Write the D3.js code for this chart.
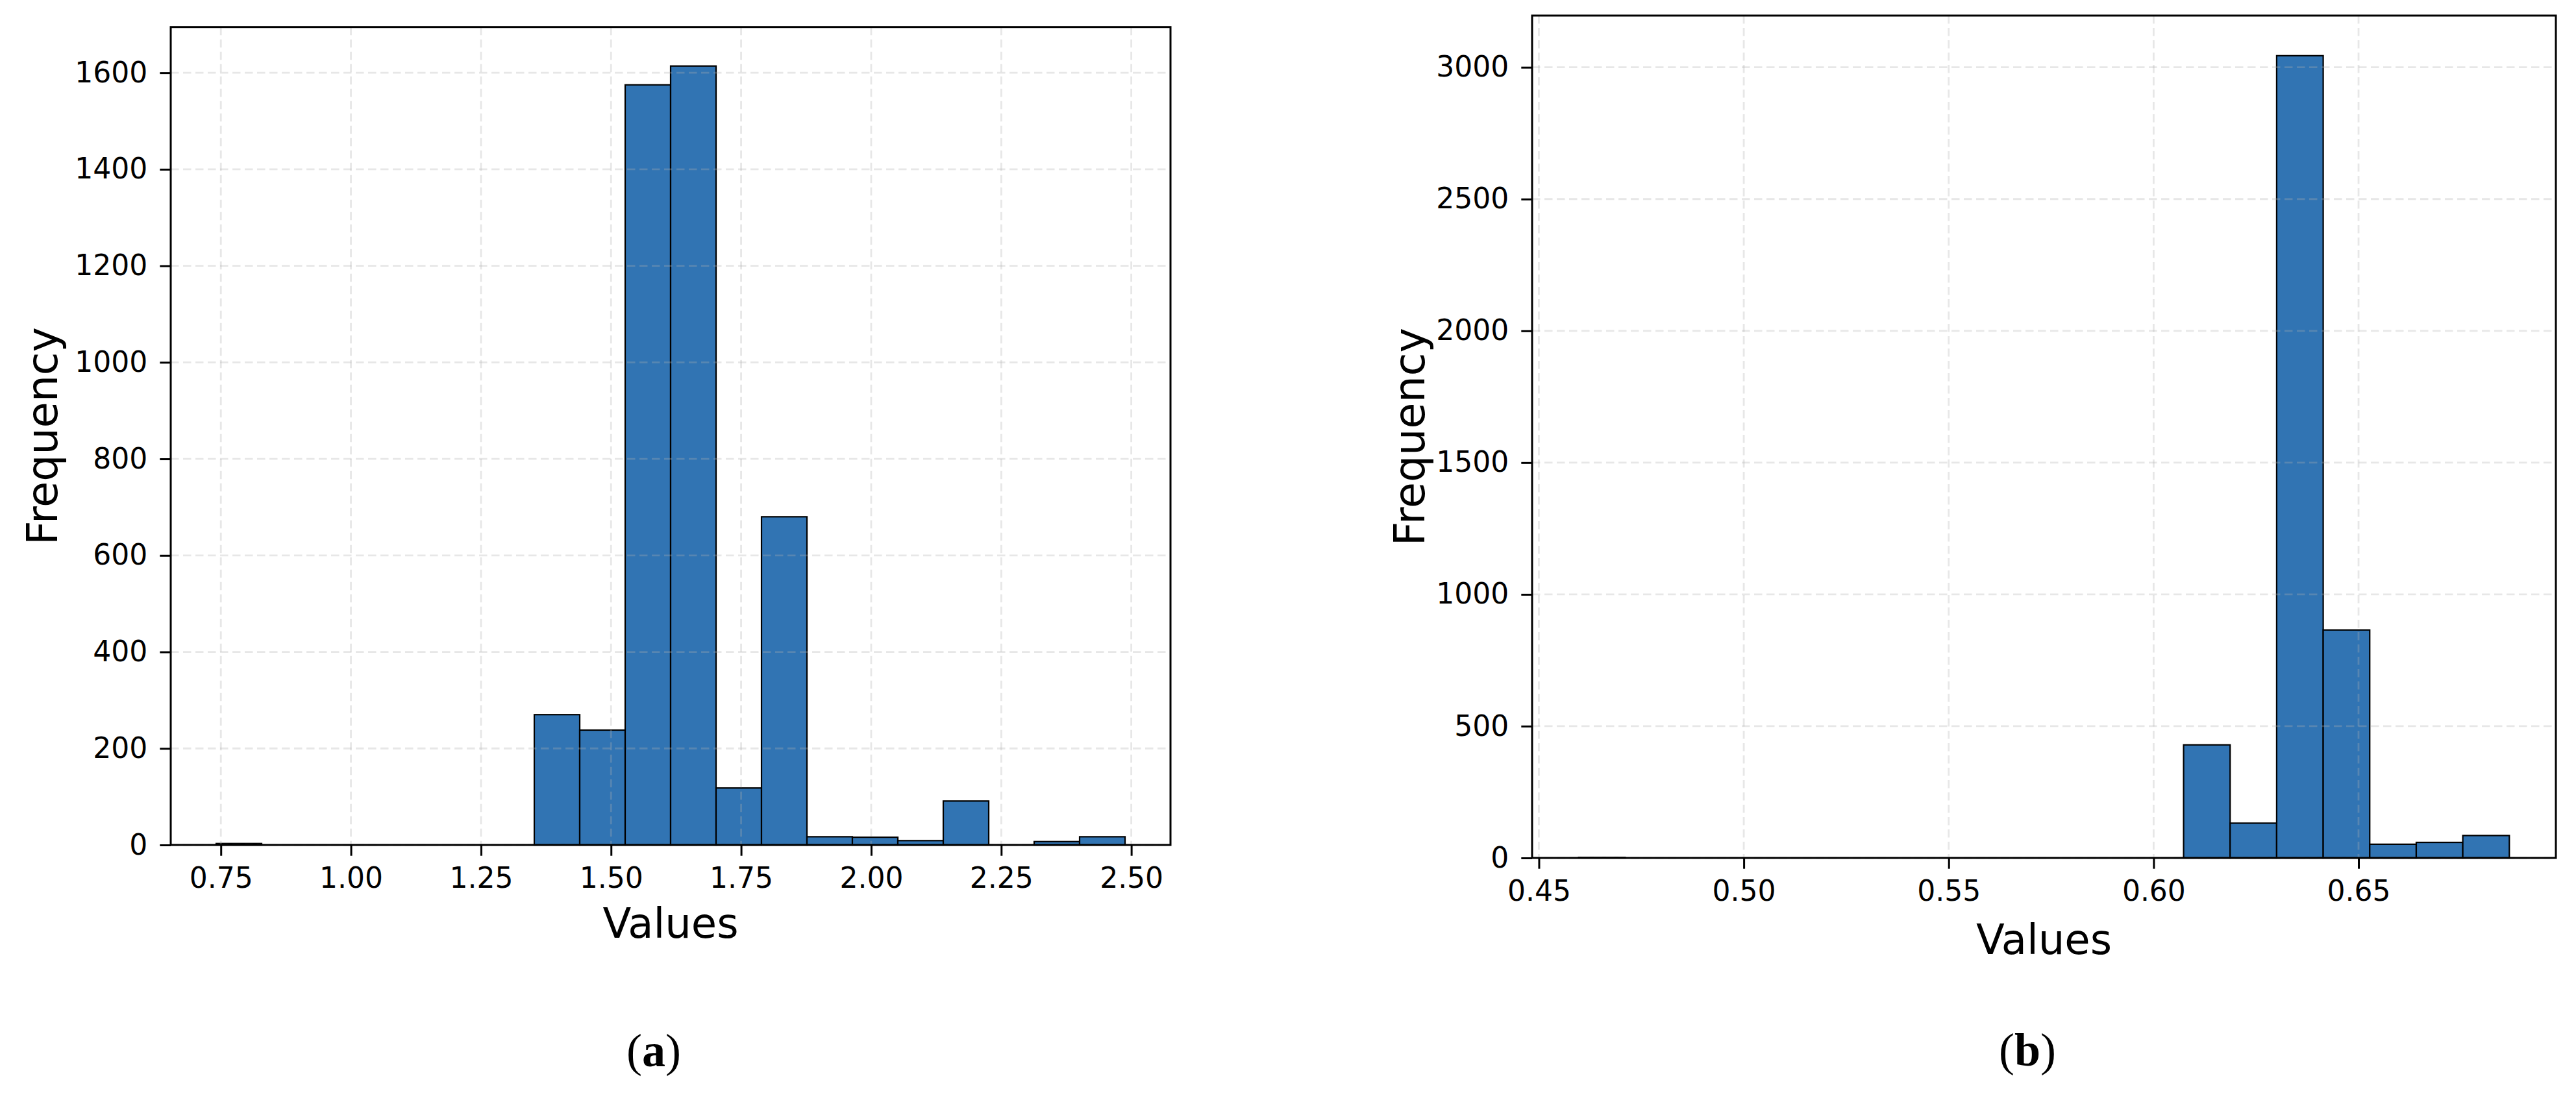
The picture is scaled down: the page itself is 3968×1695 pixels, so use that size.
<!DOCTYPE html>
<html>
<head>
<meta charset="utf-8">
<script src="https://cdn.jsdelivr.net/npm/d3@7"></script>
<style>
  html, body { margin: 0; padding: 0; background: #ffffff; }
  svg { display: block; }
</style>
</head>
<body>
<svg id="chart" width="3968" height="1695"></svg>
<script>
// ---------- data ----------
const leftCounts  = [3, 0, 0, 0, 0, 0, 0, 270, 238, 1575, 1614, 118, 680, 17, 16, 9, 91, 0, 7, 17];
const leftRange   = [0.741, 2.488];
const leftXTicks  = [0.75, 1.00, 1.25, 1.50, 1.75, 2.00, 2.25, 2.50];
const leftYTicks  = [0, 200, 400, 600, 800, 1000, 1200, 1400, 1600];

const rightCounts = [2, 0, 0, 0, 0, 0, 0, 0, 0, 0, 0, 0, 0, 429, 132, 3044, 865, 52, 59, 85];
const rightRange  = [0.4597, 0.6868];
const rightXTicks = [0.45, 0.50, 0.55, 0.60, 0.65];
const rightYTicks = [0, 500, 1000, 1500, 2000, 2500, 3000];

const xLabel = "Values";
const yLabel = "Frequency";
const captions = ["a", "b"];

// ---------- styling ----------
const BAR_FILL = "#3174b3";
const FONT = "'DejaVu Sans', sans-serif";

const panels = [
  { counts: leftCounts, range: leftRange, xTicks: leftXTicks, yTicks: leftYTicks,
    box: { l: 263, r: 1803, t: 41.7, b: 1302 },
    xLabelY: 1445, yLabelX: 88, capX: 1007, capY: 1643, caption: captions[0] },
  { counts: rightCounts, range: rightRange, xTicks: rightXTicks, yTicks: rightYTicks,
    box: { l: 2360, r: 3937, t: 24, b: 1322 },
    xLabelY: 1470, yLabelX: 2194, capX: 3123, capY: 1642, caption: captions[1] }
];

const svg = d3.select("#chart");
svg.append("rect").attr("width", 3968).attr("height", 1695).attr("fill", "#fff");

panels.forEach(p => {
  const n = p.counts.length;
  const [lo, hi] = p.range;
  const w = (hi - lo) / n;
  const bins = p.counts.map((c, i) => ({ x0: lo + i * w, x1: lo + (i + 1) * w, c }));
  const pad = 0.05 * (hi - lo);
  const ymax = d3.max(p.counts) * 1.05;

  const x = d3.scaleLinear().domain([lo - pad, hi + pad]).range([p.box.l, p.box.r]);
  const y = d3.scaleLinear().domain([0, ymax]).range([p.box.b, p.box.t]);

  const g = svg.append("g");

  // bars
  g.append("g").selectAll("rect").data(bins.filter(d => d.c > 0)).join("rect")
    .attr("x", d => x(d.x0))
    .attr("width", d => x(d.x1) - x(d.x0))
    .attr("y", d => y(d.c))
    .attr("height", d => y(0) - y(d.c))
    .attr("fill", BAR_FILL)
    .attr("stroke", "#000")
    .attr("stroke-width", 2.2);

  // grid (on top, translucent)
  const grid = g.append("g")
    .attr("stroke", "#b0b0b0").attr("stroke-opacity", 0.3)
    .attr("stroke-width", 2.8).attr("stroke-dasharray", "12.5,6.5");
  grid.selectAll(".vg").data(p.xTicks).join("line")
    .attr("x1", d => x(d)).attr("x2", d => x(d))
    .attr("y1", p.box.t).attr("y2", p.box.b);
  grid.selectAll(".hg").data(p.yTicks).join("line")
    .attr("y1", d => y(d)).attr("y2", d => y(d))
    .attr("x1", p.box.l).attr("x2", p.box.r);

  // axes
  const xa = g.append("g").attr("transform", `translate(0,${p.box.b})`)
    .call(d3.axisBottom(x).tickValues(p.xTicks).tickFormat(d3.format(".2f"))
      .tickSize(16.7).tickPadding(18));
  const ya = g.append("g").attr("transform", `translate(${p.box.l},0)`)
    .call(d3.axisLeft(y).tickValues(p.yTicks).tickFormat(d3.format("d"))
      .tickSize(16.7).tickPadding(19));
  [xa, ya].forEach(a => {
    a.select(".domain").remove();
    a.selectAll("line").attr("stroke", "#000").attr("stroke-width", 3);
    a.selectAll("text").attr("font-family", FONT).attr("font-size", 44).attr("fill", "#000");
  });

  // frame (spines)
  g.append("rect")
    .attr("x", p.box.l).attr("y", p.box.t)
    .attr("width", p.box.r - p.box.l).attr("height", p.box.b - p.box.t)
    .attr("fill", "none").attr("stroke", "#000").attr("stroke-width", 3);

  // axis labels
  g.append("text")
    .attr("x", (p.box.l + p.box.r) / 2).attr("y", p.xLabelY)
    .attr("text-anchor", "middle")
    .attr("font-family", FONT).attr("font-size", 64).attr("fill", "#000")
    .text(xLabel);
  g.append("text")
    .attr("transform", `translate(${p.yLabelX},${(p.box.t + p.box.b) / 2}) rotate(-90)`)
    .attr("text-anchor", "middle")
    .attr("font-family", FONT).attr("font-size", 65).attr("fill", "#000")
    .text(yLabel);

  // caption
  const cap = g.append("text")
    .attr("x", p.capX).attr("y", p.capY)
    .attr("text-anchor", "middle")
    .attr("font-family", "'Liberation Serif', 'Times New Roman', serif")
    .attr("font-size", 72).attr("fill", "#000");
  cap.append("tspan").text("(");
  cap.append("tspan").attr("font-weight", "bold").text(p.caption);
  cap.append("tspan").text(")");
});
</script>
</body>
</html>
